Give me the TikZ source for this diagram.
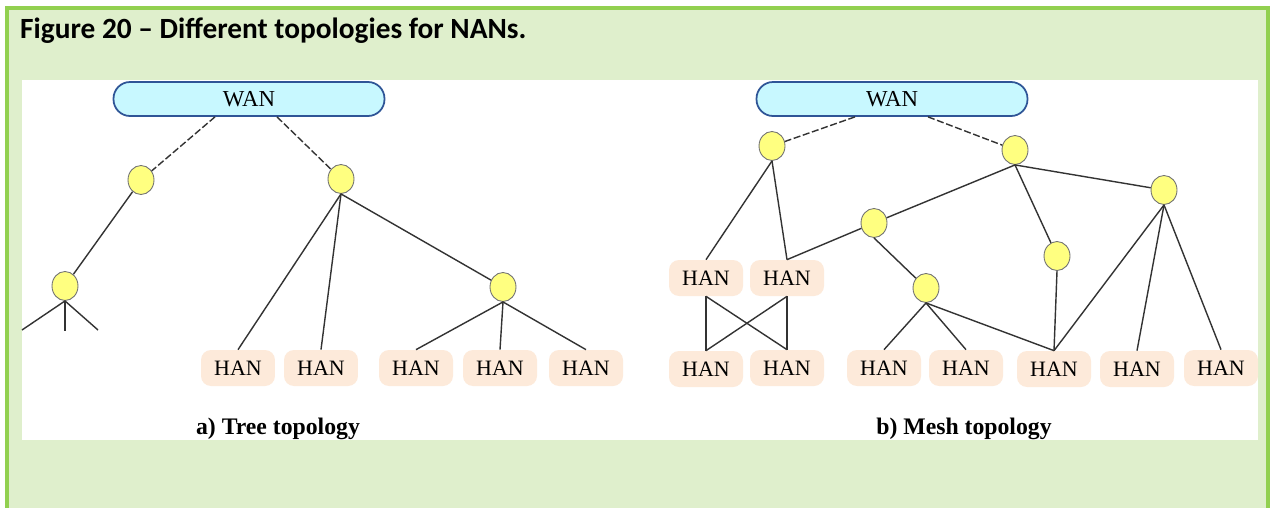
\documentclass[tikz,border=0pt]{standalone}
\usepackage{fontspec}
\setmainfont{Liberation Serif}
\newfontfamily\titlefont{Carlito}
\usepackage{xcolor}
\usepackage{tikz}
\usetikzlibrary{shapes.geometric, calc, positioning}

\definecolor{frameGreen}{HTML}{92D050}
\definecolor{paleGreen}{HTML}{DFEFCC}
\definecolor{wanCyan}{HTML}{C8F8FF}
\definecolor{wanBlue}{HTML}{2F5597}
\definecolor{hanPeach}{HTML}{FDEADA}
\definecolor{hubYellow}{HTML}{FFFF80}

\begin{document}
\begin{tikzpicture}[
    x=0.02cm, y=-0.02cm,
    wan/.style={rectangle, draw=wanBlue, fill=wanCyan, line width=1pt, rounded corners=0.33cm, minimum width=5.42cm, minimum height=0.68cm, font=\fontsize{13}{15}\selectfont},
    han/.style={rectangle, fill=hanPeach, rounded corners=0.2cm, minimum width=1.48cm, minimum height=0.72cm, font=\fontsize{12.5}{14}\selectfont},
    hub/.style={ellipse, draw=black!55, fill=hubYellow, line width=0.5pt, minimum width=0.52cm, minimum height=0.58cm, inner sep=0pt},
    link/.style={draw=black!80, line width=0.8pt},
    uplink/.style={link, dash pattern=on 4pt off 1.5pt},
    caption/.style={font=\fontsize{13.5}{16}\selectfont\bfseries}
]
% Frame
\useasboundingbox (0,0) rectangle (1273,507);
\fill[white] (0,0) rectangle (1273,507);
\draw[frameGreen, fill=paleGreen, line width=2.3pt] (7,8) rectangle (1268,530);
\fill[white] (22,80) rectangle (1258,440);
\node[anchor=west, font=\titlefont\fontsize{16.7}{20}\selectfont\bfseries] (title) at (14,31) {Figure 20 – Different topologies for NANs.};

% Nodes: tree topology
\node[wan] (wanA) at (249,99) {WAN};
\node[hub] (a1) at (141,180) {};
\node[hub] (a2) at (341,179) {};
\node[hub] (a3) at (65,286) {};
\node[hub] (a4) at (503,287) {};
\node[han] (ah1) at (238,368) {HAN};
\node[han] (ah2) at (321,368) {HAN};
\node[han] (ah3) at (416,368) {HAN};
\node[han] (ah4) at (500,368) {HAN};
\node[han] (ah5) at (586,368) {HAN};
\coordinate (s1) at (22,330);
\coordinate (s2) at (65,331);
\coordinate (s3) at (98,330);
\node[caption] (capA) at (278,429) {a) Tree topology};

% Nodes: mesh topology
\node[wan] (wanB) at (892,99) {WAN};
\node[hub] (m1) at (772,146) {};
\node[hub] (m2) at (1015,150) {};
\node[hub] (m3) at (874,223) {};
\node[hub] (m4) at (1164,190) {};
\node[hub] (m5) at (1057,256) {};
\node[hub] (m6) at (926,288) {};
\node[han] (hb1) at (706,278) {HAN};
\node[han] (hb2) at (787,278) {HAN};
\node[han] (hc1) at (706,369) {HAN};
\node[han] (hc2) at (787,368) {HAN};
\node[han] (hc3) at (884,368) {HAN};
\node[han] (hc4) at (966,368) {HAN};
\node[han] (hc5) at (1054,369) {HAN};
\node[han] (hc6) at (1137,369) {HAN};
\node[han] (hc7) at (1221,368) {HAN};
\node[caption] (capB) at (964,429) {b) Mesh topology};

% Paths: tree
\draw[uplink] ([xshift=-0.68cm]wanA.south) -- (a1);
\draw[uplink] ([xshift=0.56cm]wanA.south) -- (a2);
\draw[link] (a1) -- (a3);
\draw[link] (a3.south) -- (s1);
\draw[link] (a3.south) -- (s2);
\draw[link] (a3.south) -- (s3);
\draw[link] (a2.south) -- (ah1.north);
\draw[link] (a2.south) -- (ah2.north);
\draw[link] (a2.south) -- (a4);
\draw[link] (a4.south) -- (ah3.north);
\draw[link] (a4.south) -- (ah4.north);
\draw[link] (a4.south) -- (ah5.north);

% Paths: mesh
\draw[uplink] ([xshift=-0.74cm]wanB.south) -- (m1);
\draw[uplink] ([xshift=0.72cm]wanB.south) -- (m2);
\draw[link] (m1.south) -- (hb1.north);
\draw[link] (m1.south) -- (hb2.north);
\draw[link] (m3) -- (hb2.north);
\draw[link] (m2.south) -- (m3);
\draw[link] (m2.south) -- (m5);
\draw[link] (m2.south) -- (m4);
\draw[link] (m3.south) -- (m6);
\draw[link] (m6.south) -- (hc3.north);
\draw[link] (m6.south) -- (hc4.north);
\draw[link] (m6.south) -- (hc5.north);
\draw[link] (m5.south) -- (hc5.north);
\draw[link] (m4.south) -- (hc5.north);
\draw[link] (m4.south) -- (hc6.north);
\draw[link] (m4.south) -- (hc7.north);

% Crossed links between HANs
\draw[link] (hb1.south) -- (hc1.north);
\draw[link] (hb1.south) -- (hc2.north);
\draw[link] (hb2.south) -- (hc1.north);
\draw[link] (hb2.south) -- (hc2.north);

\end{tikzpicture}
\end{document}
